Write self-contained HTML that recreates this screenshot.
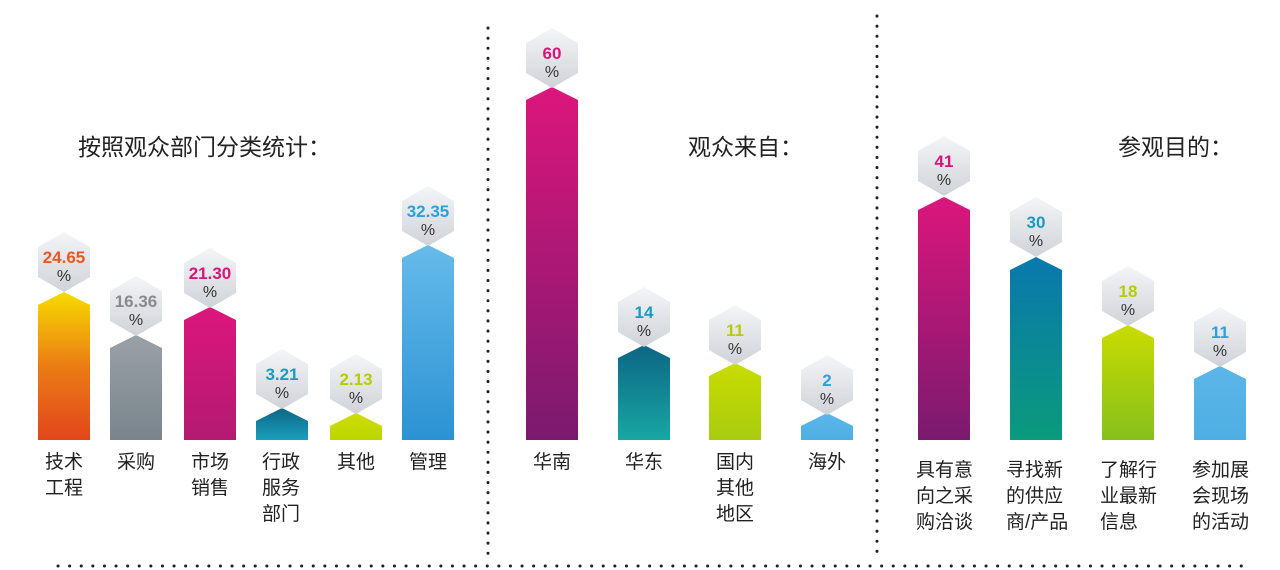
<!DOCTYPE html>
<html><head><meta charset="utf-8"><style>
html,body{margin:0;padding:0;background:#fff;}
svg{display:block;}
text{font-family:"Liberation Sans","Noto Sans CJK SC",sans-serif;}
.v{font-weight:bold;font-size:17px;text-anchor:middle;}
.p{font-size:16px;fill:#333;text-anchor:middle;}
.l{font-size:19px;fill:#222;}
.t{font-size:23px;fill:#222;}
</style></head><body>
<svg width="1280" height="570" viewBox="0 0 1280 570" xmlns="http://www.w3.org/2000/svg">
<defs>
<linearGradient id="hx" x1="0" y1="0" x2="0" y2="1"><stop offset="0" stop-color="#f4f5f7"/><stop offset="1" stop-color="#cfd3d8"/></linearGradient>
<linearGradient id="g1" x1="0" y1="0" x2="0" y2="1"><stop offset="0" stop-color="#f7db00"/><stop offset="0.5" stop-color="#eb7c14"/><stop offset="1" stop-color="#e2461c"/></linearGradient>
<linearGradient id="g2" x1="0" y1="0" x2="0" y2="1"><stop offset="0" stop-color="#9aa1a7"/><stop offset="1" stop-color="#79848c"/></linearGradient>
<linearGradient id="g3" x1="0" y1="0" x2="0" y2="1"><stop offset="0" stop-color="#dc167c"/><stop offset="1" stop-color="#b31a72"/></linearGradient>
<linearGradient id="g4" x1="0" y1="0" x2="0" y2="1"><stop offset="0" stop-color="#0d6585"/><stop offset="1" stop-color="#1aa0bd"/></linearGradient>
<linearGradient id="g5" x1="0" y1="0" x2="0" y2="1"><stop offset="0" stop-color="#cfdc00"/><stop offset="1" stop-color="#bcd600"/></linearGradient>
<linearGradient id="g6" x1="0" y1="0" x2="0" y2="1"><stop offset="0" stop-color="#66bbea"/><stop offset="1" stop-color="#2b92d3"/></linearGradient>
<linearGradient id="m1" x1="0" y1="0" x2="0" y2="1"><stop offset="0" stop-color="#dc167c"/><stop offset="1" stop-color="#7a1a6e"/></linearGradient>
<linearGradient id="m2" x1="0" y1="0" x2="0" y2="1"><stop offset="0" stop-color="#0d6585"/><stop offset="1" stop-color="#17a7a3"/></linearGradient>
<linearGradient id="m3" x1="0" y1="0" x2="0" y2="1"><stop offset="0" stop-color="#c9dc00"/><stop offset="1" stop-color="#a8cc10"/></linearGradient>
<linearGradient id="m4" x1="0" y1="0" x2="0" y2="1"><stop offset="0" stop-color="#5cb6e8"/><stop offset="1" stop-color="#4eaee3"/></linearGradient>
<linearGradient id="r2" x1="0" y1="0" x2="0" y2="1"><stop offset="0" stop-color="#0a78ad"/><stop offset="1" stop-color="#0a9a7c"/></linearGradient>
<linearGradient id="r3" x1="0" y1="0" x2="0" y2="1"><stop offset="0" stop-color="#c9dc00"/><stop offset="1" stop-color="#86c01c"/></linearGradient>
<polygon id="h" points="0,-30 26,-15 26,15 0,30 -26,15 -26,-15"/>
</defs>

<!-- dotted separators -->
<line x1="488" y1="28" x2="488" y2="558" stroke="#222" stroke-width="3" stroke-dasharray="0.1 10" stroke-linecap="round"/>
<line x1="877" y1="16" x2="877" y2="558" stroke="#222" stroke-width="3" stroke-dasharray="0.1 10" stroke-linecap="round"/>
<line x1="58" y1="566" x2="1250" y2="566" stroke="#222" stroke-width="3" stroke-dasharray="0.1 11.5" stroke-linecap="round"/>

<!-- titles -->
<text class="t" x="78" y="155">按照观众部门分类统计：</text>
<text class="t" x="688" y="155">观众来自：</text>
<text class="t" x="1118" y="155">参观目的：</text>

<!-- left group -->
<polygon fill="url(#g1)" points="38,305 64,292 90,305 90,440 38,440"/>
<polygon fill="url(#g2)" points="110,348 136,335 162,348 162,440 110,440"/>
<polygon fill="url(#g3)" points="184,320 210,307 236,320 236,440 184,440"/>
<polygon fill="url(#g4)" points="256,421 282,408 308,421 308,440 256,440"/>
<polygon fill="url(#g5)" points="330,426 356,413 382,426 382,440 330,440"/>
<polygon fill="url(#g6)" points="402,258 428,245 454,258 454,440 402,440"/>

<use href="#h" x="64" y="262" fill="url(#hx)"/><text class="v" x="64" y="263" fill="#e8581e">24.65</text><text class="p" x="64" y="281">%</text>
<use href="#h" x="136" y="306" fill="url(#hx)"/><text class="v" x="136" y="307" fill="#8a8a8a">16.36</text><text class="p" x="136" y="325">%</text>
<use href="#h" x="210" y="278" fill="url(#hx)"/><text class="v" x="210" y="279" fill="#d6157a">21.30</text><text class="p" x="210" y="297">%</text>
<use href="#h" x="282" y="379" fill="url(#hx)"/><text class="v" x="282" y="380" fill="#1a9bbf">3.21</text><text class="p" x="282" y="398">%</text>
<use href="#h" x="356" y="384" fill="url(#hx)"/><text class="v" x="356" y="385" fill="#b8cc00">2.13</text><text class="p" x="356" y="403">%</text>
<use href="#h" x="428" y="216" fill="url(#hx)"/><text class="v" x="428" y="217" fill="#2aa0dc">32.35</text><text class="p" x="428" y="235">%</text>

<text class="l" x="45" y="468">技术</text><text class="l" x="45" y="494">工程</text>
<text class="l" x="117" y="468">采购</text>
<text class="l" x="191" y="468">市场</text><text class="l" x="191" y="494">销售</text>
<text class="l" x="262" y="468">行政</text><text class="l" x="262" y="494">服务</text><text class="l" x="262" y="520">部门</text>
<text class="l" x="337" y="468">其他</text>
<text class="l" x="409" y="468">管理</text>

<!-- middle group -->
<polygon fill="url(#m1)" points="526,100 552,87 578,100 578,440 526,440"/>
<polygon fill="url(#m2)" points="618,358 644,345 670,358 670,440 618,440"/>
<polygon fill="url(#m3)" points="709,376 735,363 761,376 761,440 709,440"/>
<polygon fill="url(#m4)" points="801,426 827,413 853,426 853,440 801,440"/>

<use href="#h" x="552" y="58" fill="url(#hx)"/><text class="v" x="552" y="59" fill="#d6157a">60</text><text class="p" x="552" y="77">%</text>
<use href="#h" x="644" y="317" fill="url(#hx)"/><text class="v" x="644" y="318" fill="#1a9bbf">14</text><text class="p" x="644" y="336">%</text>
<use href="#h" x="735" y="335" fill="url(#hx)"/><text class="v" x="735" y="336" fill="#b8cc00">11</text><text class="p" x="735" y="354">%</text>
<use href="#h" x="827" y="385" fill="url(#hx)"/><text class="v" x="827" y="386" fill="#2aa0dc">2</text><text class="p" x="827" y="404">%</text>

<text class="l" x="533" y="468">华南</text>
<text class="l" x="625" y="468">华东</text>
<text class="l" x="716" y="468">国内</text><text class="l" x="716" y="494">其他</text><text class="l" x="716" y="520">地区</text>
<text class="l" x="808" y="468">海外</text>

<!-- right group -->
<polygon fill="url(#m1)" points="918,210 944,197 970,210 970,440 918,440"/>
<polygon fill="url(#r2)" points="1010,270 1036,257 1062,270 1062,440 1010,440"/>
<polygon fill="url(#r3)" points="1102,338 1128,325 1154,338 1154,440 1102,440"/>
<polygon fill="url(#m4)" points="1194,379 1220,366 1246,379 1246,440 1194,440"/>

<use href="#h" x="944" y="166" fill="url(#hx)"/><text class="v" x="944" y="167" fill="#d6157a">41</text><text class="p" x="944" y="185">%</text>
<use href="#h" x="1036" y="227" fill="url(#hx)"/><text class="v" x="1036" y="228" fill="#1a9bbf">30</text><text class="p" x="1036" y="246">%</text>
<use href="#h" x="1128" y="296" fill="url(#hx)"/><text class="v" x="1128" y="297" fill="#b8cc00">18</text><text class="p" x="1128" y="315">%</text>
<use href="#h" x="1220" y="337" fill="url(#hx)"/><text class="v" x="1220" y="338" fill="#2aa0dc">11</text><text class="p" x="1220" y="356">%</text>

<text class="l" x="916" y="476">具有意</text><text class="l" x="916" y="502">向之采</text><text class="l" x="916" y="528">购洽谈</text>
<text class="l" x="1006" y="476">寻找新</text><text class="l" x="1006" y="502">的供应</text><text class="l" x="1006" y="528">商/产品</text>
<text class="l" x="1100" y="476">了解行</text><text class="l" x="1100" y="502">业最新</text><text class="l" x="1100" y="528">信息</text>
<text class="l" x="1192" y="476">参加展</text><text class="l" x="1192" y="502">会现场</text><text class="l" x="1192" y="528">的活动</text>
</svg>
</body></html>
